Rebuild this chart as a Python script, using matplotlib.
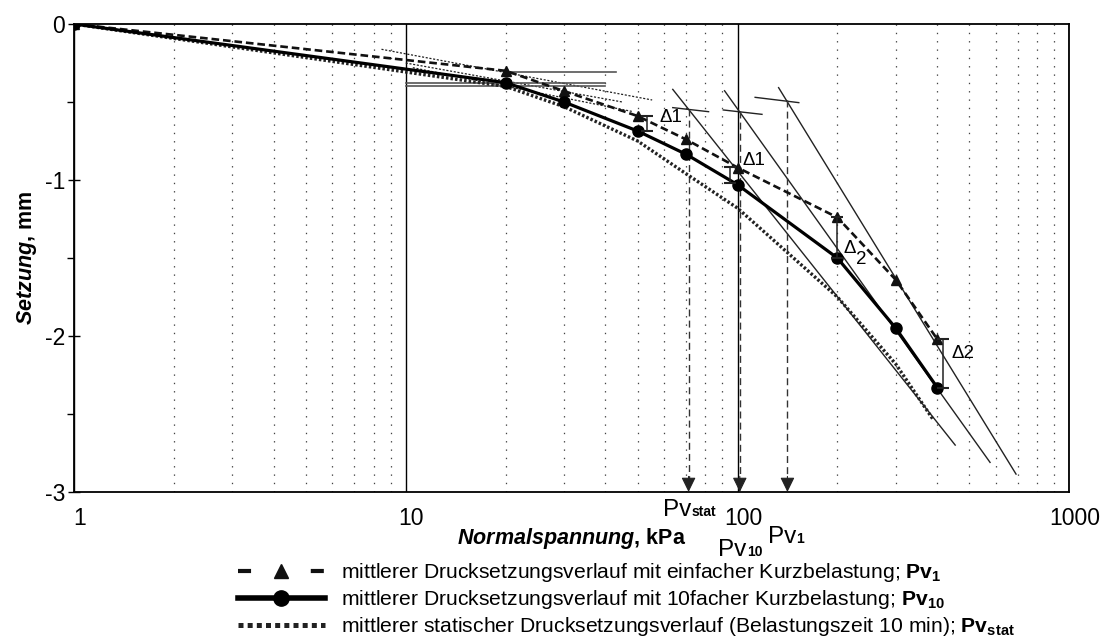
import matplotlib
matplotlib.use("Agg")
import matplotlib.pyplot as plt
import matplotlib.ticker as mticker
import matplotlib.transforms as mtransforms
from matplotlib.lines import Line2D

plt.rcParams["font.family"] = ["Liberation Sans", "DejaVu Sans"]
plt.rcParams["mathtext.fontset"] = "custom"
plt.rcParams["mathtext.rm"] = "Liberation Sans"
plt.rcParams["mathtext.it"] = "Liberation Sans:italic"
plt.rcParams["mathtext.bf"] = "Liberation Sans:bold"
plt.rcParams["mathtext.bfit"] = "Liberation Sans:bold:italic"
plt.rcParams["lines.scale_dashes"] = False
plt.rcParams["axes.unicode_minus"] = False

# load steps (kPa) and mean settlement (mm)
x_load = [1, 20, 30, 50, 70, 100, 200, 300, 400]
s_einfach = [0, -0.30, -0.43, -0.59, -0.74, -0.92, -1.24, -1.64, -2.02]
s_10fach = [0, -0.376, -0.50, -0.686, -0.835, -1.03, -1.50, -1.95, -2.33]
x_stat = [1, 20, 30, 50, 70, 100, 200, 300, 390]
s_stat = [0, -0.40, -0.53, -0.75, -0.96, -1.18, -1.75, -2.18, -2.54]

# construction lines
steep_x = [(63.8, 453), (91.4, 577), (133, 691)]
steep_y = [(-0.419, -2.699), (-0.428, -2.81), (-0.408, -2.885)]
cross_x = [(63.8, 81.8), (90.6, 118.5), (113, 153)]
cross_y = [(-0.536, -0.562), (-0.551, -0.579), (-0.47, -0.504)]
tan_x = [(8.45, 55.3), (10.0, 45.0), (10.5, 48.0)]
tan_y = [(-0.162, -0.487), (-0.25, -0.50), (-0.28, -0.56)]
hline_y = [-0.306, -0.376, -0.395]
hline_x0 = [20, 10, 10]
hline_x1 = [43, 40, 40]

pv_x = [71.2, 101.6, 141.4]
pv_top = [-0.545, -0.56, -0.49]
pv_main = ["Pv", "Pv", "Pv"]
pv_sub = ["stat", "10", "1"]

delta_x = [53.4, 95.2, 199, 417]
delta_top = [-0.588, -0.919, -1.24, -2.02]
delta_bot = [-0.686, -1.021, -1.50, -2.33]
delta_lab = ["\u03941", "\u03941", "\u0394", "\u03942"]

fig = plt.figure(figsize=(11.06, 6.42), dpi=100)
ax = fig.add_axes([0.0669, 0.2336, 0.8999, 0.7290])
ax.set_xscale("log")
ax.set_xlim(1, 1000)
ax.set_ylim(-3, 0)

# grid: dotted minor, solid decades
ax.xaxis.set_minor_locator(mticker.LogLocator(base=10, subs=range(2, 10)))
ax.grid(True, which="minor", axis="x", color="#444", linestyle=(0, (1, 5)), linewidth=0.9)
ax.grid(True, which="major", axis="x", color="black", linestyle="-", linewidth=1.0)
ax.set_axisbelow(True)

# construction lines
for (x0, x1), (y0, y1) in zip(steep_x, steep_y):
    ax.plot([x0, x1], [y0, y1], color="#222", lw=1.0)
for (x0, x1), (y0, y1) in zip(cross_x, cross_y):
    ax.plot([x0, x1], [y0, y1], color="#222", lw=1.0)
for (x0, x1), (y0, y1) in zip(tan_x, tan_y):
    ax.plot([x0, x1], [y0, y1], color="#222", lw=0.9, dashes=(1.5, 1.2))
for y, x0, x1 in zip(hline_y, hline_x0, hline_x1):
    ax.plot([x0, x1], [y, y], color="#555", lw=1.2)

# curves
ax.plot(x_stat, s_stat, color="#222", lw=2.4, dashes=(1.8, 1.5), dash_capstyle="butt", zorder=3)
ax.plot(x_load, s_einfach, color="#111", lw=1.9, dashes=(5.5, 2.8), marker="^", ms=7.5, zorder=4)
ax.plot(x_load, s_10fach, color="black", lw=2.3, marker="o", ms=8, zorder=5)

# Pv arrows
for x, top in zip(pv_x, pv_top):
    ax.plot([x, x], [top, -2.93], color="#333", lw=1.0, dashes=(5, 3))
    ax.annotate("", xy=(x, -3), xytext=(x, -2.9),
                arrowprops=dict(arrowstyle="-|>,head_length=0.45,head_width=0.22",
                                mutation_scale=20, color="#222", lw=0.8, shrinkA=0, shrinkB=0))

# delta bars
for x, t, b in zip(delta_x, delta_top, delta_bot):
    ax.plot([x, x], [t, b], color="#222", lw=1.1, marker="_", ms=9, mew=1.5, zorder=6)

def trans_pt(dx, dy):
    return ax.transData + mtransforms.ScaledTranslation(dx / 72, dy / 72, fig.dpi_scale_trans)

ax.text(delta_x[0], delta_top[0], delta_lab[0], fontsize=13.5, transform=trans_pt(9, -1), va="center")
ax.text(delta_x[1], delta_top[1], delta_lab[1], fontsize=13.5, transform=trans_pt(9, 5), va="center")
ax.text(delta_x[2], delta_top[2], delta_lab[2], fontsize=13.5, transform=trans_pt(5, -22), va="center")
ax.text(delta_x[2], delta_top[2], "2", fontsize=13.5, transform=trans_pt(14, -30), va="center")
ax.text(delta_x[3], delta_top[3], delta_lab[3], fontsize=13.5, transform=trans_pt(6, -10), va="center")

# Pv labels below the axis
blend = mtransforms.blended_transform_factory(ax.transData, ax.transAxes)
pv_off = [(2, -17), (5, -46), (6, -37)]
for x, m, s, (dx, dy) in zip(pv_x, pv_main, pv_sub, pv_off):
    off = mtransforms.ScaledTranslation(dx / 72, dy / 72, fig.dpi_scale_trans)
    ax.text(x, 0, m, fontsize=17.5, ha="right", va="baseline", transform=blend + off, clip_on=False)
    ax.text(x, 0, s, fontsize=10, fontweight="bold", ha="left", va="baseline", transform=blend + off, clip_on=False)

# axes styling
for sp in ax.spines.values():
    sp.set_linewidth(1.3)
ax.set_xticks([1, 10, 100, 1000])
ax.xaxis.set_major_formatter(mticker.FuncFormatter(lambda v, p: f"{v:g}"))
ax.xaxis.set_minor_formatter(mticker.NullFormatter())
ax.tick_params(axis="x", which="both", length=0, labelsize=16.5, pad=11)
for lab in ax.get_xticklabels():
    lab.set_transform(lab.get_transform() + mtransforms.ScaledTranslation(4 / 72, 0, fig.dpi_scale_trans))
ax.set_yticks([0, -1, -2, -3])
ax.yaxis.set_minor_locator(mticker.MultipleLocator(0.5))
ax.tick_params(axis="y", which="major", direction="inout", length=9, width=1, labelsize=16.5, pad=2)
ax.tick_params(axis="y", which="minor", direction="out", length=5, width=1)

ax.set_xlabel(r"$\mathbfit{Normalspannung}$, kPa", fontsize=15.5, fontweight="bold", labelpad=-3)
ax.set_ylabel(r"$\mathbfit{Setzung}$, mm", fontsize=15.5, fontweight="bold", labelpad=4)

# legend
h1 = Line2D([], [], color="#111", lw=3, dashes=(9.4, 43), marker="^", ms=10)
h2 = Line2D([], [], color="black", lw=4, marker="o", ms=11)
h3 = Line2D([], [], color="#222", lw=3.6, dashes=(3.6, 3.0), dash_capstyle="butt")
labels = [
    r"mittlerer Drucksetzungsverlauf mit einfacher Kurzbelastung; $\mathbf{Pv}_{\mathbf{1}}$",
    r"mittlerer Drucksetzungsverlauf mit 10facher Kurzbelastung; $\mathbf{Pv}_{\mathbf{10}}$",
    r"mittlerer statischer Drucksetzungsverlauf (Belastungszeit 10 min); $\mathbf{Pv}_{\mathbf{stat}}$",
]
fig.legend([h1, h2, h3], labels, loc="upper left", bbox_to_anchor=(238 / 1106, 1 - 561 / 642),
           frameon=False, fontsize=15.2, handlelength=4.1, handletextpad=0.8,
           labelspacing=0.2, borderpad=0, borderaxespad=0)

fig.savefig("out.png", dpi=100)
